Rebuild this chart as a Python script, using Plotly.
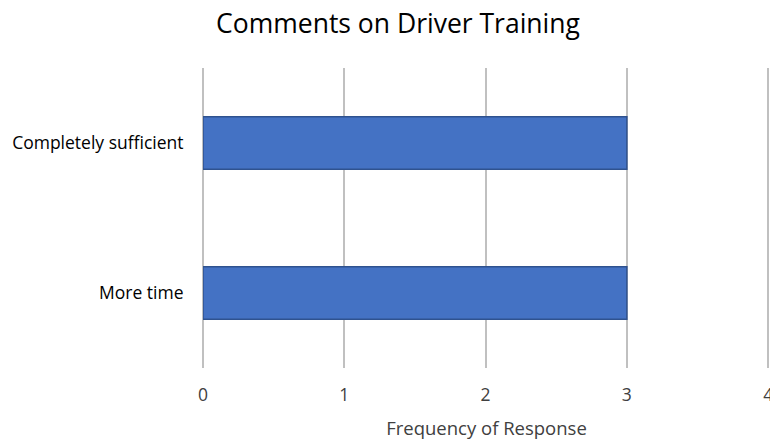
import plotly.graph_objects as go

categories = ["More time", "Completely sufficient"]
values = [3, 3]
x_ticks = [0, 1, 2, 3, 4]

fig = go.Figure(go.Bar(
    y=categories, x=values, orientation="h",
    marker=dict(color="#4472C4", line=dict(color="#2F528F", width=1.5)),
    width=0.35,
))

fig.update_layout(
    width=770, height=440,
    margin=dict(l=203, r=0, t=68, b=72),
    paper_bgcolor="white", plot_bgcolor="white",
    font=dict(family="Open Sans, Liberation Sans, sans-serif", size=15, color="#404040"),
    title=dict(text="Comments on Driver Training", x=398 / 770, xanchor="center", y=1 - 24 / 440, yanchor="middle",
               font=dict(size=26.5, color="#000000")),
    showlegend=False,
)
fig.update_xaxes(
    range=[0, 4.013], tickvals=x_ticks, showgrid=True, gridcolor="#C0C0C0", gridwidth=2,
    zeroline=True, zerolinecolor="#C0C0C0", zerolinewidth=2,
    ticks="outside", ticklen=11, tickcolor="white", ticklabeloverflow="allow",
    tickfont=dict(size=17.5, color="#404040"),
    title=dict(text="Frequency of Response", font=dict(size=18.5, color="#404040"), standoff=17),
    automargin=False,
)
fig.update_yaxes(
    showgrid=False, ticks="outside", ticklen=15, tickcolor="white",
    tickfont=dict(size=17.5, color="#000000"), automargin=False,
)
fig.write_html(
    "out.html",
    config={"displayModeBar": False},
    post_script="document.body.style.margin='0';document.documentElement.style.overflow='hidden';",
)
